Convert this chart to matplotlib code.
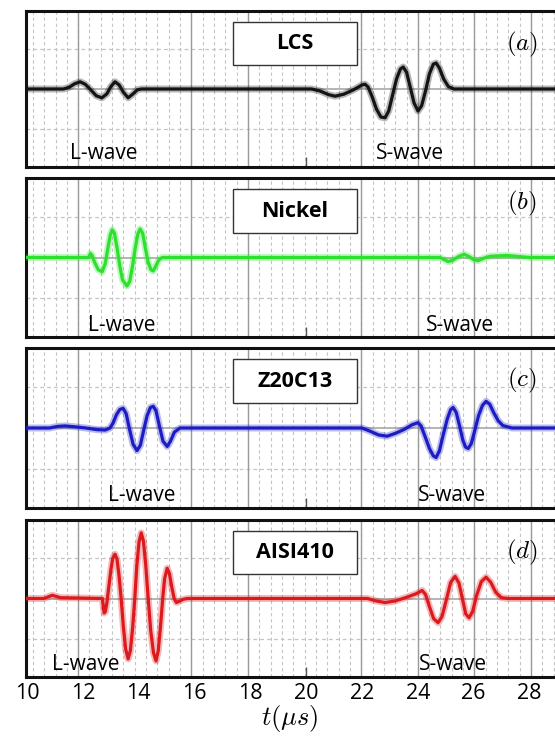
import matplotlib
matplotlib.use("Agg")
import matplotlib.pyplot as plt
import matplotlib.patheffects as pe
from matplotlib.patches import Rectangle
import numpy as np

plt.rcParams['mathtext.fontset'] = 'cm'
plt.rcParams['font.family'] = ['Open Sans', 'DejaVu Sans']

# Signals (time in us, amplitude in divisions)
t_lcs = [9.96, 11.3, 11.5, 11.7, 11.9, 12.08, 12.28, 12.48, 12.68, 12.86, 13.0, 13.15, 13.3,
         13.45, 13.62, 13.8, 13.95, 14.1,
         20.2, 20.5, 20.8, 21.04, 21.35, 21.7, 22.0, 22.11, 22.22, 22.37, 22.52, 22.68,
         22.83, 22.96, 23.1, 23.24, 23.38, 23.48, 23.6, 23.73, 23.87, 24.01, 24.14, 24.28,
         24.42, 24.56, 24.66, 24.78, 24.93, 25.1, 25.3, 29.1]
a_lcs = [0, 0, 0.04, 0.13, 0.18, 0.12, -0.02, -0.17, -0.22, -0.12, 0.06, 0.18, 0.1,
         -0.08, -0.22, -0.12, -0.02, 0,
         0, -0.05, -0.14, -0.18, -0.13, -0.02, 0.1, 0.12, 0.05, -0.2, -0.5, -0.7,
         -0.72, -0.55, -0.15, 0.25, 0.5, 0.55, 0.42, 0.05, -0.35, -0.55, -0.42, -0.05,
         0.38, 0.62, 0.65, 0.52, 0.25, 0.06, 0.0, 0]

t_nickel = [9.96, 12.2, 12.27, 12.33, 12.42, 12.55, 12.69, 12.8, 12.9, 12.98, 13.05, 13.13,
            13.22, 13.32, 13.42, 13.58, 13.68, 13.78, 13.88, 13.97, 14.05, 14.14, 14.24,
            14.34, 14.44, 14.52, 14.62, 14.72, 14.84,
            24.8, 24.95, 25.09, 25.25, 25.45, 25.66, 25.85, 26.0, 26.16, 26.35, 26.6, 27.2,
            28.0, 29.1]
a_nickel = [0, 0, 0.1, 0.05, -0.12, -0.3, -0.35, -0.15, 0.25, 0.55, 0.68, 0.6,
            0.25, -0.2, -0.55, -0.7, -0.58, -0.2, 0.25, 0.58, 0.7, 0.6, 0.22,
            -0.12, -0.3, -0.33, -0.2, -0.06, 0,
            0, -0.05, -0.1, -0.07, 0.02, 0.08, 0.02, -0.05, -0.08, -0.02, 0.03, 0.05,
            0.0, 0]

t_z20 = [9.96, 10.8, 11.1, 11.36, 11.7, 12.1, 12.5, 12.8, 12.97, 13.08, 13.2, 13.32, 13.44,
         13.55, 13.66, 13.8, 13.94, 14.06, 14.18, 14.3, 14.42, 14.52, 14.62, 14.74, 14.87,
         15.02, 15.14, 15.28, 15.48,
         22.0, 22.3, 22.6, 22.9, 23.2, 23.5, 23.8, 24.01, 24.12, 24.26, 24.42, 24.56, 24.66,
         24.78, 24.92, 25.06, 25.18, 25.27, 25.38, 25.5, 25.62, 25.72, 25.81, 25.92, 26.05,
         26.18, 26.32, 26.45, 26.58, 26.72, 26.88, 27.05, 27.38, 29.1]
a_z20 = [0, 0.0, 0.04, 0.05, 0.03, 0.0, -0.04, -0.05, 0, 0.12, 0.32, 0.45, 0.48,
         0.35, 0.0, -0.4, -0.55, -0.42, -0.05, 0.3, 0.5, 0.53, 0.42, 0.05, -0.32,
         -0.45, -0.32, -0.1, 0,
         0, -0.08, -0.17, -0.2, -0.13, -0.04, 0.08, 0.13, 0.05, -0.2, -0.5, -0.68, -0.72,
         -0.55, -0.15, 0.22, 0.45, 0.5, 0.38, 0.05, -0.3, -0.47, -0.5, -0.38, -0.05,
         0.3, 0.55, 0.65, 0.58, 0.38, 0.18, 0.06, 0, 0]

t_aisi = [9.96, 10.6, 10.9, 11.2, 12.7, 12.73, 12.76, 12.8, 12.86, 12.93, 13.0, 13.07, 13.15,
          13.22, 13.29, 13.37, 13.45, 13.53, 13.62, 13.7, 13.78, 13.86, 13.93, 14.01, 14.09,
          14.17, 14.25, 14.34, 14.43, 14.53, 14.62, 14.7, 14.78, 14.86, 14.93, 15.02, 15.1,
          15.18, 15.27, 15.35, 15.45, 15.6, 15.73,
          22.2, 22.5, 22.83, 23.2, 23.6, 23.95, 24.16, 24.28, 24.42, 24.57, 24.73, 24.87,
          25.02, 25.18, 25.34, 25.48, 25.6, 25.72, 25.84, 25.97, 26.1, 26.28, 26.45, 26.62,
          26.8, 27.0, 27.24, 29.1]
a_aisi = [0, 0, 0.08, 0.02, 0.0, -0.2, -0.36, -0.33, -0.1, 0.3, 0.7, 1.0, 1.1,
          0.98, 0.6, 0.0, -0.7, -1.25, -1.5, -1.3, -0.75, 0.0, 0.8, 1.4, 1.63,
          1.42, 0.85, 0.0, -0.8, -1.35, -1.55, -1.3, -0.7, 0.0, 0.5, 0.75, 0.62,
          0.3, 0.0, -0.1, -0.07, -0.02, 0,
          0, -0.06, -0.1, -0.06, 0.03, 0.12, 0.2, 0.1, -0.2, -0.5, -0.6, -0.45,
          -0.05, 0.4, 0.55, 0.38, 0.0, -0.38, -0.48, -0.32, 0.05, 0.42, 0.53, 0.4,
          0.15, 0.02, 0, 0]

materials = ['LCS', 'Nickel', 'Z20C13', 'AISI410']
panel_tags = ['$(a)$', '$(b)$', '$(c)$', '$(d)$']
tag_y = [1.12, 1.33, 1.15, 1.15]
lwave_x = [12.76, 13.4, 14.12, 12.11]
swave_x = [23.73, 25.52, 25.23, 25.27]
wave_y = [-1.62, -1.66, -1.65, -1.65]
colors = ['#141414', '#2ee02e', '#1c1cc4', '#dc1a1e']
times = [t_lcs, t_nickel, t_z20, t_aisi]
amps = [a_lcs, a_nickel, a_z20, a_aisi]

xticks = [10, 12, 14, 16, 18, 20, 22, 24, 26, 28]

fig = plt.figure(figsize=(5.55, 7.4), dpi=100)

# panel boxes in pixels: (top, bottom)
panels_px = [(11, 167), (178, 337), (348, 508), (520, 677)]

# oscilloscope graticule (styling only)
grid_major = 11.83 + 2.029 * np.arange(0, 9)
grid_minor = 11.83 + 0.4058 * np.arange(-4, 45)
solid_idx = [0, 2, 3, 5, 6, 7, 8]

for i in range(4):
    top, bot = panels_px[i]
    ax = fig.add_axes([26 / 555, 1 - bot / 740, 534 / 555, (bot - top) / 740])
    ax.set_xlim(9.96, 29.1)
    ax.set_ylim(-1.95, 1.95)

    for g in grid_minor:
        ax.axvline(g, color='#c4c4c4', lw=0.8, ls=(0, (3, 2.5)), zorder=0)
    for k, g in enumerate(grid_major):
        if k in solid_idx:
            ax.axvline(g, color='#9a9a9a', lw=1.0, zorder=0.5)
    for h in [-1, 1]:
        ax.axhline(h, color='#c4c4c4', lw=0.9, ls=(0, (3, 2.5)), zorder=0)
    ax.axhline(0, color='#a8a8a8', lw=1.2, zorder=0.5)

    ax.plot(times[i], amps[i], color=colors[i], lw=2.3, zorder=3,
            solid_joinstyle='round', solid_capstyle='round',
            path_effects=[pe.Stroke(linewidth=5, foreground=colors[i], alpha=0.3),
                          pe.Normal()])

    ax.add_patch(Rectangle((17.38, 0.6), 21.83 - 17.38, 1.08, facecolor='white',
                           edgecolor='#333333', lw=1.0, zorder=4))
    ax.text(19.6, 1.14, materials[i], ha='center', va='center', fontsize=15.5,
            fontweight='bold', zorder=5)
    ax.text(27.74, tag_y[i], panel_tags[i], ha='center', va='center', fontsize=18, zorder=5)
    ax.text(lwave_x[i], wave_y[i], 'L-wave', ha='center', va='center', fontsize=15, zorder=5)
    ax.text(swave_x[i], wave_y[i], 'S-wave', ha='center', va='center', fontsize=15, zorder=5)

    ax.set_yticks([])
    ax.xaxis.remove_overlapping_locs = False
    ax.set_xticks(xticks)
    ax.set_xticks([20], minor=True)
    ax.tick_params(axis='x', which='major', direction='in', length=0,
                   labelsize=15.5, pad=4)
    ax.tick_params(axis='x', which='minor', direction='in', length=7, width=1,
                   color='#555555')
    if i < 3:
        ax.tick_params(axis='x', labelbottom=False)
    for s in ax.spines.values():
        s.set_linewidth(2.2)
        s.set_color('#111111')

fig.text(290 / 555, 1 - 718 / 740, r'$t(\mu s)$', ha='center', va='center', fontsize=19)

fig.savefig('out.png', dpi=100)
